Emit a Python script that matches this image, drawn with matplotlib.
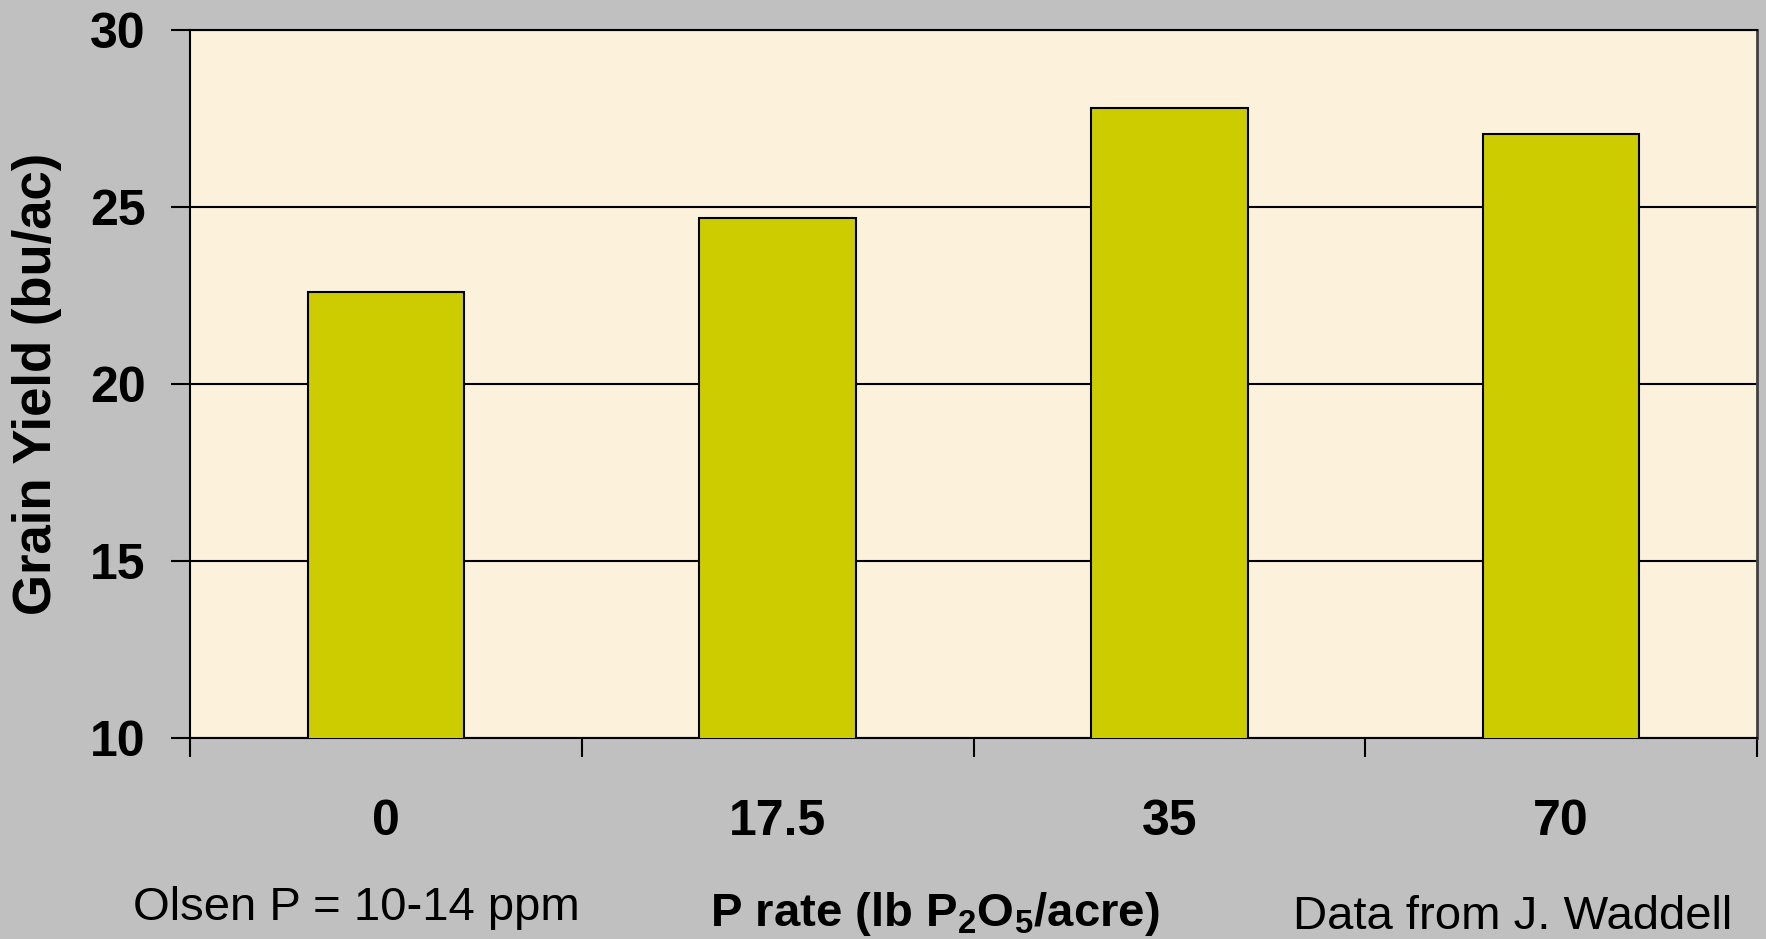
import matplotlib
matplotlib.use("Agg")
import matplotlib.pyplot as plt

# data
p_rates = ["0", "17.5", "35", "70"]
grain_yield = [22.6, 24.7, 27.8, 27.05]
y_ticks = [10, 15, 20, 25, 30]

W, H = 1766, 939
plt.rcParams['font.family'] = ['Liberation Sans', 'DejaVu Sans']
plt.rcParams['mathtext.fontset'] = 'custom'
plt.rcParams['mathtext.rm'] = 'Liberation Sans:bold'
plt.rcParams['mathtext.default'] = 'rm'

fig = plt.figure(figsize=(W / 100, H / 100), dpi=100, facecolor='#C0C0C0')
ax = fig.add_axes([190 / W, 1 - 738 / H, (1757 - 190) / W, (738 - 30) / H])
ax.set_facecolor('#FCF2DC')

x = list(range(len(p_rates)))
ax.bar(x, grain_yield, width=0.4, bottom=0, color='#CCCC00',
       edgecolor='black', linewidth=1.5, zorder=3)

ax.set_ylim(10, 30)
ax.set_xlim(-0.5, len(p_rates) - 0.5)
ax.set_yticks(y_ticks)
ax.yaxis.grid(True, color='black', linewidth=1.5, zorder=1)
ax.set_axisbelow(True)

ax.set_xticks(x)
ax.set_xticklabels(p_rates)
ax.set_xticks([i - 0.5 for i in range(len(p_rates) + 1)], minor=True)
ax.tick_params(axis='x', which='major', length=0, pad=44, labelsize=36)
ax.tick_params(axis='x', which='minor', length=14, width=1.5, direction='out')
ax.tick_params(axis='y', length=14, width=1.5, direction='out', pad=18, labelsize=36)
for lab in ax.get_xticklabels() + ax.get_yticklabels():
    lab.set_fontweight('bold')

for s in ['left', 'bottom', 'top']:
    ax.spines[s].set_color('black')
    ax.spines[s].set_linewidth(1.5)
ax.spines['right'].set_color('#404040')
ax.spines['right'].set_linewidth(2)

ax.set_ylabel('Grain Yield (bu/ac)', fontsize=38, fontweight='bold')
ax.yaxis.set_label_coords(-0.082, 0.5)

fig.text(133 / W, 1 - 920 / H, 'Olsen P = 10-14 ppm', fontsize=34,
         ha='left', va='baseline')
fig.text(935 / W, 1 - 926 / H, r'P rate (lb P$_2$O$_5$/acre)', fontsize=34,
         fontweight='bold', ha='center', va='baseline')
fig.text(1732 / W, 1 - 929 / H, 'Data from J. Waddell', fontsize=34,
         ha='right', va='baseline')

fig.savefig('out.png', dpi=100, facecolor=fig.get_facecolor())
